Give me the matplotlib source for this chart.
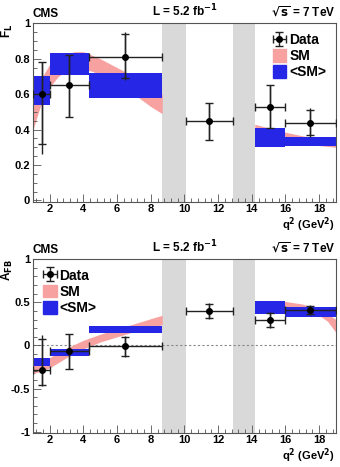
import numpy as np
import matplotlib.pyplot as plt
import matplotlib.patches as patches
from matplotlib.ticker import MultipleLocator

plt.rcParams['font.family'] = ['Liberation Sans', 'DejaVu Sans']
plt.rcParams['font.weight'] = 'bold'
plt.rcParams['mathtext.default'] = 'bf'

# q2 bins (GeV^2)
bin_lo = [1.0, 2.0, 4.3, 10.09, 14.18, 16.0]
bin_hi = [2.0, 4.3, 8.68, 12.86, 16.0, 19.0]
q2_mean = [1.52, 3.16, 6.49, 11.46, 15.08, 17.46]
vetoes = [(8.68, 10.09), (12.86, 14.18)]

# F_L data
fl = [0.60, 0.65, 0.81, 0.45, 0.53, 0.44]
fl_stat_up = [0.18, 0.17, 0.13, 0.10, 0.12, 0.07]
fl_stat_dn = [0.28, 0.18, 0.12, 0.11, 0.12, 0.07]
fl_tot_up = [0.18, 0.17, 0.14, 0.10, 0.12, 0.08]
fl_tot_dn = [0.34, 0.18, 0.13, 0.11, 0.12, 0.08]
# <SM> F_L boxes (lo, hi), bins 1,2,3,5,6
fl_sm_bins = [0, 1, 2, 4, 5]
fl_sm_lo = [0.54, 0.71, 0.58, 0.30, 0.31]
fl_sm_hi = [0.70, 0.83, 0.72, 0.41, 0.36]
# SM F_L band
fl_q2_low = [1.0, 1.5, 2.0, 2.5, 3.0, 3.5, 4.0, 4.5, 5.0, 6.0, 7.0, 8.0, 8.68]
fl_band_lo_low = [0.40, 0.55, 0.64, 0.70, 0.73, 0.74, 0.74, 0.73, 0.71, 0.66, 0.60, 0.53, 0.49]
fl_band_hi_low = [0.56, 0.69, 0.77, 0.81, 0.83, 0.84, 0.84, 0.82, 0.80, 0.75, 0.70, 0.64, 0.60]
fl_q2_high = [14.18, 15.0, 16.0, 17.0, 18.0, 19.0]
fl_band_lo_high = [0.37, 0.35, 0.33, 0.32, 0.31, 0.30]
fl_band_hi_high = [0.43, 0.41, 0.385, 0.365, 0.35, 0.34]

# A_FB data
afb = [-0.29, -0.07, -0.01, 0.40, 0.29, 0.41]
afb_stat_up = [0.37, 0.20, 0.11, 0.08, 0.09, 0.05]
afb_stat_dn = [0.17, 0.20, 0.11, 0.08, 0.08, 0.05]
afb_tot_up = [0.41, 0.20, 0.12, 0.09, 0.10, 0.06]
afb_tot_dn = [0.18, 0.20, 0.12, 0.09, 0.09, 0.06]
afb_sm_bins = [0, 1, 2, 4, 5]
afb_sm_lo = [-0.24, -0.12, 0.14, 0.37, 0.33]
afb_sm_hi = [-0.15, -0.04, 0.22, 0.51, 0.45]
afb_q2_low = [1.0, 2.0, 3.0, 4.0, 5.0, 6.0, 7.0, 8.0, 8.68]
afb_band_lo_low = [-0.33, -0.26, -0.14, -0.04, 0.04, 0.10, 0.16, 0.21, 0.24]
afb_band_hi_low = [-0.22, -0.14, -0.03, 0.06, 0.13, 0.19, 0.25, 0.31, 0.35]
afb_q2_high = [14.18, 15.0, 16.0, 17.0, 18.0, 18.5, 19.0]
afb_band_lo_high = [0.40, 0.44, 0.45, 0.42, 0.35, 0.28, 0.15]
afb_band_hi_high = [0.48, 0.51, 0.51, 0.48, 0.42, 0.37, 0.30]

PINK = '#f7a1a1'
BLUE = '#2626e6'
GRAY = '#d9d9d9'


def draw_panel(ax, vals, st_up, st_dn, tot_up, tot_dn, sm_bins, sm_lo, sm_hi,
               bands, ylim, ymajor, yminor, ylabel, legend_loc):
    for a, b in vetoes:
        ax.axvspan(a, b, color=GRAY, lw=0, zorder=0)
    for q, lo, hi in bands:
        ax.fill_between(q, lo, hi, color=PINK, lw=0, zorder=1)
    lefts = [bin_lo[i] for i in sm_bins]
    widths = [bin_hi[i] - bin_lo[i] for i in sm_bins]
    heights = np.array(sm_hi) - np.array(sm_lo)
    ax.bar(lefts, heights, width=widths, bottom=sm_lo, align='edge',
           color=BLUE, lw=0, zorder=2)
    x = np.array(q2_mean)
    xerr = [x - np.array(bin_lo), np.array(bin_hi) - x]
    ax.errorbar(x, vals, yerr=[tot_dn, tot_up], fmt='none', ecolor='#222222',
                elinewidth=1, capsize=0, zorder=3)
    data = ax.errorbar(x, vals, xerr=xerr, yerr=[st_dn, st_up], fmt='o',
                       color='black', ecolor='#222222', ms=4, elinewidth=1,
                       capsize=3, capthick=1, zorder=4)
    ax.set_xlim(1, 19)
    ax.set_ylim(*ylim)
    ax.xaxis.set_major_locator(MultipleLocator(2))
    ax.xaxis.set_minor_locator(MultipleLocator(0.4))
    ax.yaxis.set_major_locator(MultipleLocator(ymajor))
    ax.yaxis.set_minor_locator(MultipleLocator(yminor))
    ax.set_xticks([2, 4, 6, 8, 10, 12, 14, 16, 18])
    ax.tick_params(which='both', direction='in', top=False, right=False,
                   labelsize=8, width=0.6, color='#555555')
    ax.tick_params(which='major', length=6)
    ax.tick_params(which='minor', length=3)
    ax.tick_params(axis='x', pad=1.5)
    ax.tick_params(axis='y', pad=2)
    for s in ax.spines.values():
        s.set_linewidth(0.8)
        s.set_color('#555555')
    ax.text(0.0, 1.02, 'CMS', transform=ax.transAxes, fontsize=8.5,
            fontweight='bold', ha='left', va='bottom')
    ax.text(0.5, 1.02, r'L = 5.2 fb$^{-1}$', transform=ax.transAxes,
            fontsize=8.5, fontweight='bold', ha='center', va='bottom')
    ax.text(1.0, 1.02, r'$\sqrt{\mathbf{s}}$ = 7 TeV', transform=ax.transAxes,
            fontsize=8.5, fontweight='bold', ha='right', va='bottom')
    ax.text(-0.085, 1.0, ylabel, transform=ax.transAxes, fontsize=8.5,
            fontweight='bold', rotation=90, ha='center', va='top')
    ax.text(0.995, -0.076, r'q$^{2}$ (GeV$^{2}$)', transform=ax.transAxes,
            fontsize=8, fontweight='bold', ha='right', va='top')
    for lab in ax.get_xticklabels() + ax.get_yticklabels():
        lab.set_fontweight('bold')
    sm_patch = patches.Patch(color=PINK, label='SM')
    avg_patch = patches.Patch(color=BLUE, label='<SM>')
    leg = ax.legend([data, sm_patch, avg_patch], ['Data', 'SM', '<SM>'],
                    loc=legend_loc, frameon=False, fontsize=10,
                    handlelength=1.0, handleheight=1.0, handletextpad=0.2,
                    labelspacing=0.15, borderaxespad=0.3)
    for t in leg.get_texts():
        t.set_fontweight('bold')
    return ax


fig = plt.figure(figsize=(3.4, 4.67), dpi=100)
ax1 = fig.add_axes([0.097, 0.567, 0.891, 0.383])
ax2 = fig.add_axes([0.097, 0.072, 0.891, 0.373])

draw_panel(ax1, fl, fl_stat_up, fl_stat_dn, fl_tot_up, fl_tot_dn,
           fl_sm_bins, fl_sm_lo, fl_sm_hi,
           [(fl_q2_low, fl_band_lo_low, fl_band_hi_low),
            (fl_q2_high, fl_band_lo_high, fl_band_hi_high)],
           (-0.01, 1.0), 0.2, 0.05, r'F$_{L}$', 'upper right')

ax2.axhline(0, color='#888888', lw=0.8, ls=(0, (2, 2)), zorder=0.5)
draw_panel(ax2, afb, afb_stat_up, afb_stat_dn, afb_tot_up, afb_tot_dn,
           afb_sm_bins, afb_sm_lo, afb_sm_hi,
           [(afb_q2_low, afb_band_lo_low, afb_band_hi_low),
            (afb_q2_high, afb_band_lo_high, afb_band_hi_high)],
           (-1.02, 1.0), 0.5, 0.1, r'A$_{FB}$', 'upper left')
ax2.set_yticks([-1, -0.5, 0, 0.5, 1])
ax2.set_yticklabels(['-1', '-0.5', '0', '0.5', '1'], fontweight='bold')
ax1.set_yticks([0, 0.2, 0.4, 0.6, 0.8, 1])
ax1.set_yticklabels(['0', '0.2', '0.4', '0.6', '0.8', '1'], fontweight='bold')

fig.savefig('out.png', dpi=100)
